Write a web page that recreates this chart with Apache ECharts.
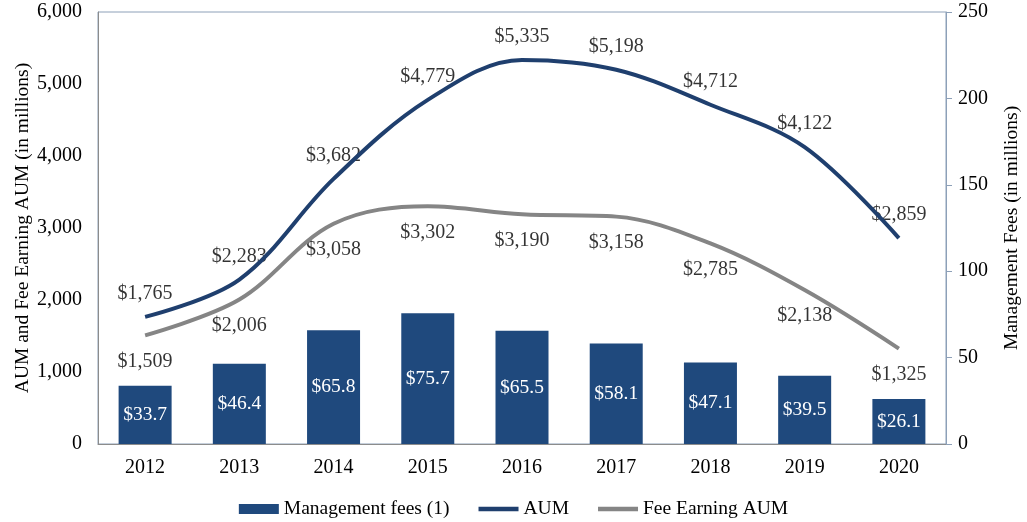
<!DOCTYPE html>
<html><head><meta charset="utf-8">
<script src="https://cdn.jsdelivr.net/npm/echarts@6/dist/echarts.min.js"></script>
<style>html,body{margin:0;padding:0;background:#fff}#c{width:1027px;height:522px}</style>
</head><body><div id="c"></div>
<script>
const years = ['2012','2013','2014','2015','2016','2017','2018','2019','2020'];
const mgmtFees = [33.7, 46.4, 65.8, 75.7, 65.5, 58.1, 47.1, 39.5, 26.1];
const aum = [1765, 2283, 3682, 4779, 5335, 5198, 4712, 4122, 2859];
const feaum = [1509, 2006, 3058, 3302, 3190, 3158, 2785, 2138, 1325];

const font = '"Liberation Serif","Times New Roman",serif';
const money = v => '$' + v.toLocaleString('en-US');
const lineIcon = 'path://M0,0 L40,0 L40,4.5 L0,4.5 Z';
const chart = echarts.init(document.getElementById('c'));
chart.setOption({
  animation: false,
  textStyle: {fontFamily: font, color: '#000'},
  grid: {left: 98, right: 81, top: 12, bottom: 78, containLabel: false, outerBoundsMode: 'none',
         show: true, borderColor: '#8da0b8', borderWidth: 1},
  legend: {
    bottom: 3, left: 'center', padding: 0, itemGap: 29, itemWidth: 40, itemHeight: 10, symbolKeepAspect: true,
    textStyle: {fontFamily: font, fontSize: 19.5, color: '#000'},
    data: [{name: 'Management fees (1)', icon: 'rect'}, {name: 'AUM', icon: lineIcon}, {name: 'Fee Earning AUM', icon: lineIcon}]
  },
  xAxis: {
    type: 'category', data: years,
    axisLine: {lineStyle: {color: '#8c8c8c'}},
    axisTick: {show: false},
    axisLabel: {fontFamily: font, fontSize: 20, color: '#000', margin: 14}
  },
  yAxis: [
    {type: 'value', min: 0, max: 6000, interval: 1000,
     name: 'AUM and Fee Earning AUM (in millions)', nameLocation: 'middle', nameGap: 65, nameMoveOverlap: false,
     nameTextStyle: {fontFamily: font, fontSize: 19.5, color: '#000'},
     axisLine: {show: true, lineStyle: {color: '#8c8c8c'}}, axisTick: {show: false},
     splitLine: {show: false},
     axisLabel: {fontFamily: font, fontSize: 20, color: '#000', margin: 16,
       formatter: v => v.toLocaleString('en-US')}},
    {type: 'value', min: 0, max: 250, interval: 50, position: 'right',
     name: 'Management Fees (in millions)', nameLocation: 'middle', nameGap: 56, nameMoveOverlap: false,
     nameTextStyle: {fontFamily: font, fontSize: 19.5, color: '#000'},
     axisLine: {show: true, lineStyle: {color: '#8da0b8'}},
     axisTick: {show: true, length: 6, lineStyle: {color: '#8da0b8'}},
     splitLine: {show: false},
     axisLabel: {fontFamily: font, fontSize: 20, color: '#000', margin: 12}}
  ],
  series: [
    {name: 'Management fees (1)', type: 'bar', yAxisIndex: 1, data: mgmtFees, barWidth: 53,
     itemStyle: {color: '#1f497d'},
     label: {show: true, position: 'inside', color: '#fff', fontFamily: font, fontSize: 19.5,
       formatter: p => '$' + p.value.toFixed(1)}},
    {name: 'AUM', type: 'line', yAxisIndex: 0, data: aum, smooth: 0.35, symbol: 'none',
     lineStyle: {color: '#1f3f6e', width: 4}, itemStyle: {color: '#1f3f6e'}},
    {name: 'Fee Earning AUM', type: 'line', yAxisIndex: 0, data: feaum, smooth: 0.35, symbol: 'none',
     lineStyle: {color: '#858585', width: 4}, itemStyle: {color: '#858585'}},
    {name: 'AUM labels', type: 'scatter', yAxisIndex: 0, data: aum, symbolSize: 0, silent: true,
     label: {show: true, position: 'top', distance: 13, color: '#000', fontFamily: font, fontSize: 20,
       formatter: p => money(p.value)}},
    {name: 'FEAUM labels', type: 'scatter', yAxisIndex: 0, data: feaum, symbolSize: 0, silent: true,
     label: {show: true, position: 'bottom', distance: 16, color: '#000', fontFamily: font, fontSize: 20,
       formatter: p => money(p.value)}}
  ]
});
</script></body></html>
